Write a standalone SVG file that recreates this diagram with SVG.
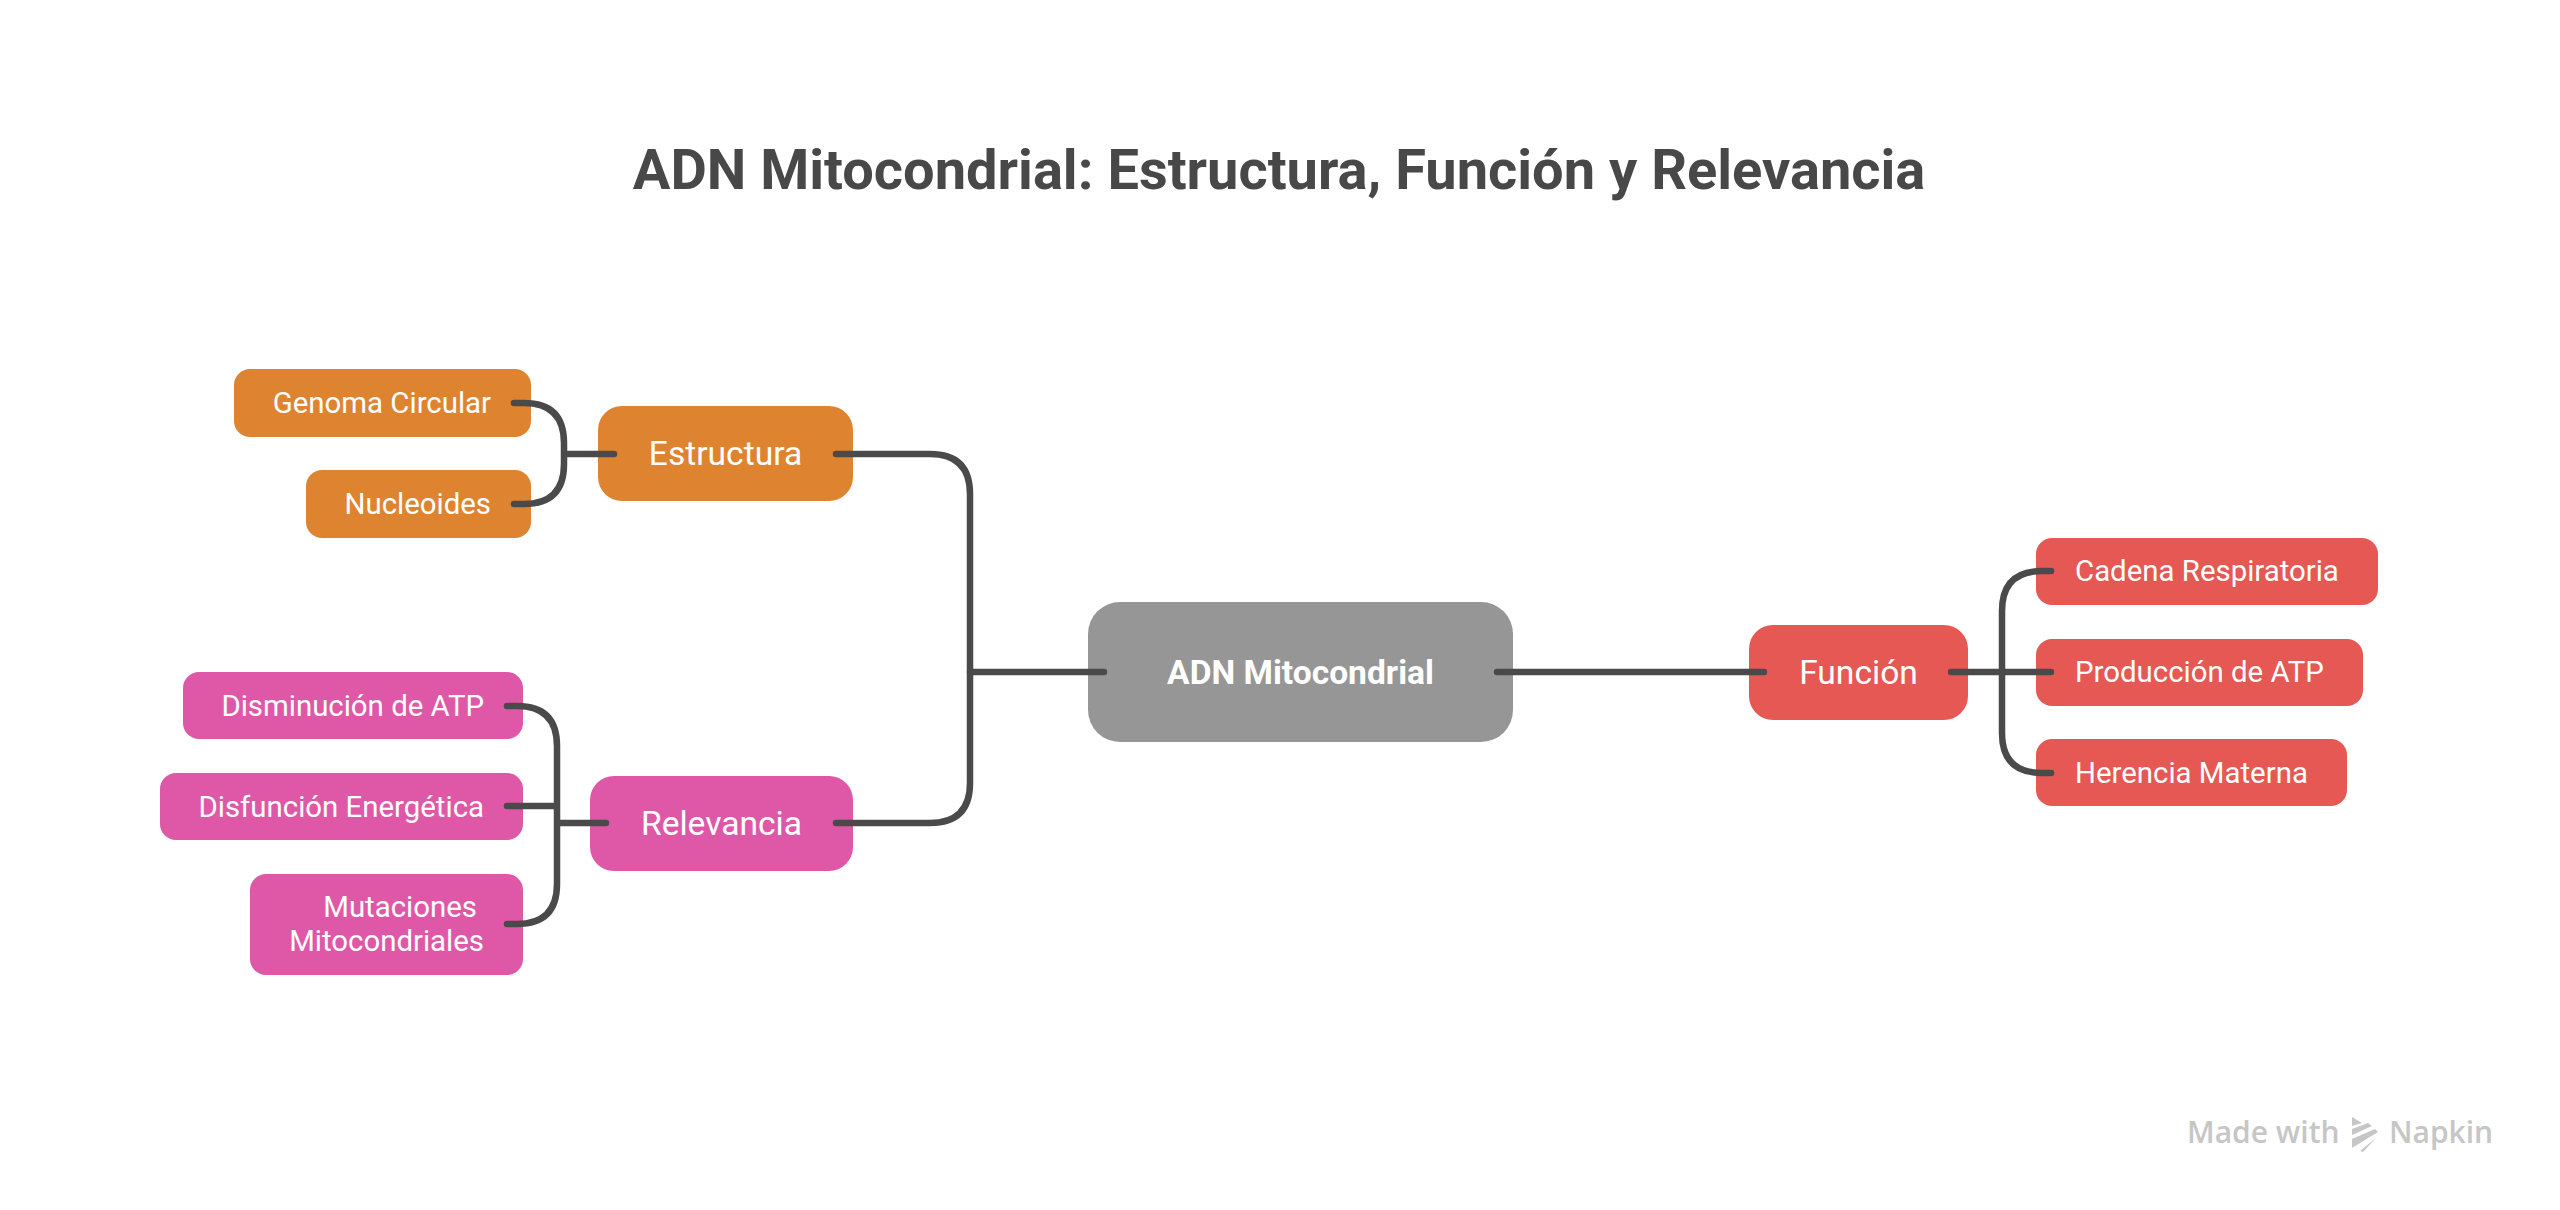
<svg xmlns="http://www.w3.org/2000/svg" width="2560" height="1210" viewBox="0 0 2560 1210">
<style>
text{font-family:Roboto,"Liberation Sans",sans-serif;fill:#fff}
.title{font-size:56px;font-weight:700;fill:#484848;text-anchor:middle}
.root{font-size:33.6px;font-weight:700;text-anchor:middle}
.par{font-size:33.6px;text-anchor:middle}
.ch{font-size:29.4px;text-anchor:end}
.chr{font-size:29.4px}
.o{fill:#DE8431}.p{fill:#DF58A8}.r{fill:#E55854}.g{fill:#969696}
.wm{font-family:"Open Sans","Noto Sans",sans-serif;font-size:30px;font-weight:600;fill:#c6c6c6}
#watermark polygon{fill:#c6c6c6}
#connectors path{fill:none;stroke:#4a4a4a;stroke-width:6.5;stroke-linecap:round;stroke-linejoin:round}
</style>
<rect width="2560" height="1210" fill="#fff"/>
<text class="title" x="1279" y="189">ADN Mitocondrial: Estructura, Función y Relevancia</text>
<g id="root"><rect class="g" x="1088" y="602" width="425" height="140" rx="32"/><text class="root" x="1300.5" y="684">ADN Mitocondrial</text></g>
<g id="estructura"><rect class="o" x="598" y="406" width="255" height="95" rx="24"/><text class="par" x="725.5" y="465">Estructura</text></g>
<g id="relevancia"><rect class="p" x="590" y="776" width="263" height="95" rx="24"/><text class="par" x="721.5" y="835">Relevancia</text></g>
<g id="funcion"><rect class="r" x="1749" y="625" width="219" height="95" rx="24"/><text class="par" x="1858.5" y="684">Función</text></g>
<g id="genoma"><rect class="o" x="234" y="369" width="297" height="68" rx="16"/><text class="ch" x="491" y="413">Genoma Circular</text></g>
<g id="nucleoides"><rect class="o" x="306" y="470" width="225" height="68" rx="16"/><text class="ch" x="491" y="514">Nucleoides</text></g>
<g id="disminucion"><rect class="p" x="183" y="672" width="340" height="67" rx="16"/><text class="ch" x="484" y="716">Disminución de ATP</text></g>
<g id="disfuncion"><rect class="p" x="160" y="773" width="363" height="67" rx="16"/><text class="ch" x="484" y="817">Disfunción Energética</text></g>
<g id="mutaciones"><rect class="p" x="250" y="874" width="273" height="101" rx="16"/><text class="ch" x="477" y="917">Mutaciones</text><text class="ch" x="484" y="951">Mitocondriales</text></g>
<g id="cadena"><rect class="r" x="2036" y="538" width="342" height="67" rx="16"/><text class="chr" x="2075" y="581">Cadena Respiratoria</text></g>
<g id="produccion"><rect class="r" x="2036" y="639" width="327" height="67" rx="16"/><text class="chr" x="2075" y="682">Producción de ATP</text></g>
<g id="herencia"><rect class="r" x="2036" y="739" width="311" height="67" rx="16"/><text class="chr" x="2075" y="783">Herencia Materna</text></g>
<g id="connectors">
<path d="M1104 672H970M1497 672H1764"/>
<path d="M836 454H930Q970 454 970 494V783Q970 823 930 823H836"/>
<path d="M514 403H524Q564 403 564 443V464Q564 504 524 504H514M564 454H614"/>
<path d="M507 706H517Q557 706 557 746V884Q557 924 517 924H507M507 806H557M557 823H606"/>
<path d="M1951 672H2051M2051 571H2042Q2002 571 2002 611V733Q2002 773 2042 773H2051"/>
</g>
<g id="watermark">
<text class="wm" x="2187" y="1143">Made with</text>
<polygon points="2352,1117 2362,1123 2352,1126"/>
<polygon points="2352,1129 2368,1123 2372,1126 2352,1135"/>
<polygon points="2352,1139 2375,1129 2378,1132 2352,1148"/>
<polygon points="2360,1151 2376,1138 2363,1152"/>
<text class="wm" x="2389" y="1143">Napkin</text>
</g>
</svg>
